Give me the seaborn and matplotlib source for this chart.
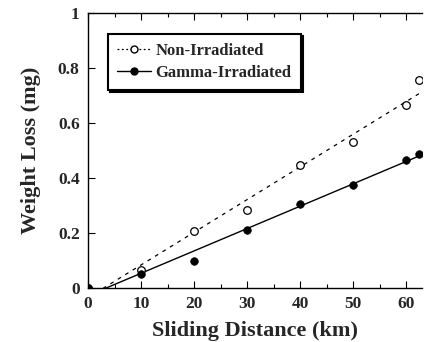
import numpy as np
import pandas as pd
import matplotlib
matplotlib.use("Agg")
import matplotlib.pyplot as plt
from matplotlib.lines import Line2D
from matplotlib.ticker import MultipleLocator
import seaborn as sns

distance = [0, 10, 20, 30, 40, 50, 60, 62.5]
non_irradiated = [0, 0.065, 0.207, 0.285, 0.447, 0.532, 0.665, 0.756]
gamma_irradiated = [0, 0.05, 0.098, 0.212, 0.305, 0.375, 0.465, 0.488]
labels = ["Non-Irradiated", "Gamma-Irradiated"]

sns.set_theme(style="white")
plt.rcParams["font.family"] = ["Liberation Serif", "DejaVu Serif"]
plt.rcParams["font.weight"] = "bold"

df = pd.DataFrame({"x": distance, "non": non_irradiated, "gam": gamma_irradiated})

fig = plt.figure(figsize=(4.26, 3.42), dpi=100)
ax = fig.add_axes([88 / 426, 54 / 342, 334 / 426, 275 / 342])

sns.regplot(data=df, x="x", y="non", ax=ax, scatter=False, ci=None, truncate=True,
            line_kws=dict(color="black", lw=0.9, ls=(0, (3, 4))))
sns.regplot(data=df, x="x", y="gam", ax=ax, scatter=False, ci=None, truncate=True,
            line_kws=dict(color="black", lw=1.0, ls="-"))
sns.scatterplot(data=df, x="x", y="non", ax=ax, marker="o", s=30,
                facecolor="white", edgecolor="black", linewidth=0.9, zorder=3)
sns.scatterplot(data=df, x="x", y="gam", ax=ax, marker="o", s=30,
                color="black", edgecolor="black", linewidth=0.5, zorder=4)

ax.set_xlim(0, 63)
ax.set_ylim(0, 1)
ax.xaxis.set_major_locator(MultipleLocator(10))
ax.xaxis.set_minor_locator(MultipleLocator(5))
ax.set_yticks([0, 0.2, 0.4, 0.6, 0.8, 1.0])
ax.set_yticklabels(["0", "0.2", "0.4", "0.6", "0.8", "1"])
ax.tick_params(axis="both", which="both", direction="in", top=True, bottom=True,
               left=True, right=False, length=5, width=0.8, color="black",
               labelsize=12.5, pad=6)
ax.tick_params(axis="x", which="minor", length=3)
for lab in ax.get_xticklabels() + ax.get_yticklabels():
    lab.set_fontweight("bold")

for s in ["left", "bottom", "top"]:
    ax.spines[s].set_color("black")
    ax.spines[s].set_linewidth(1.0)
ax.spines["right"].set_visible(False)

ax.set_xlabel("Sliding Distance (km)", fontsize=16, fontweight="bold", labelpad=6)
ax.set_ylabel("Weight Loss (mg)", fontsize=16, fontweight="bold", labelpad=12)

handles = [
    Line2D([], [], color="black", lw=0.9, ls=(0, (1.5, 2)), marker="o",
           markerfacecolor="white", markeredgecolor="black", markersize=5),
    Line2D([], [], color="black", lw=1.0, ls="-", marker="o",
           markerfacecolor="black", markeredgecolor="black", markersize=5),
]
leg = ax.legend(handles, labels, loc="upper left", bbox_to_anchor=(0.06, 0.925),
                frameon=True, fancybox=False, framealpha=1, edgecolor="black",
                prop=dict(family="Liberation Serif", weight="bold", size=12),
                handlelength=2.0, handletextpad=0.3, borderpad=0.55, labelspacing=0.35,
                borderaxespad=0,
                shadow={"color": "black", "alpha": 1, "ox": 1.5, "oy": -1.5})
leg.get_frame().set_linewidth(1.5)

fig.savefig("out.png", dpi=100)
